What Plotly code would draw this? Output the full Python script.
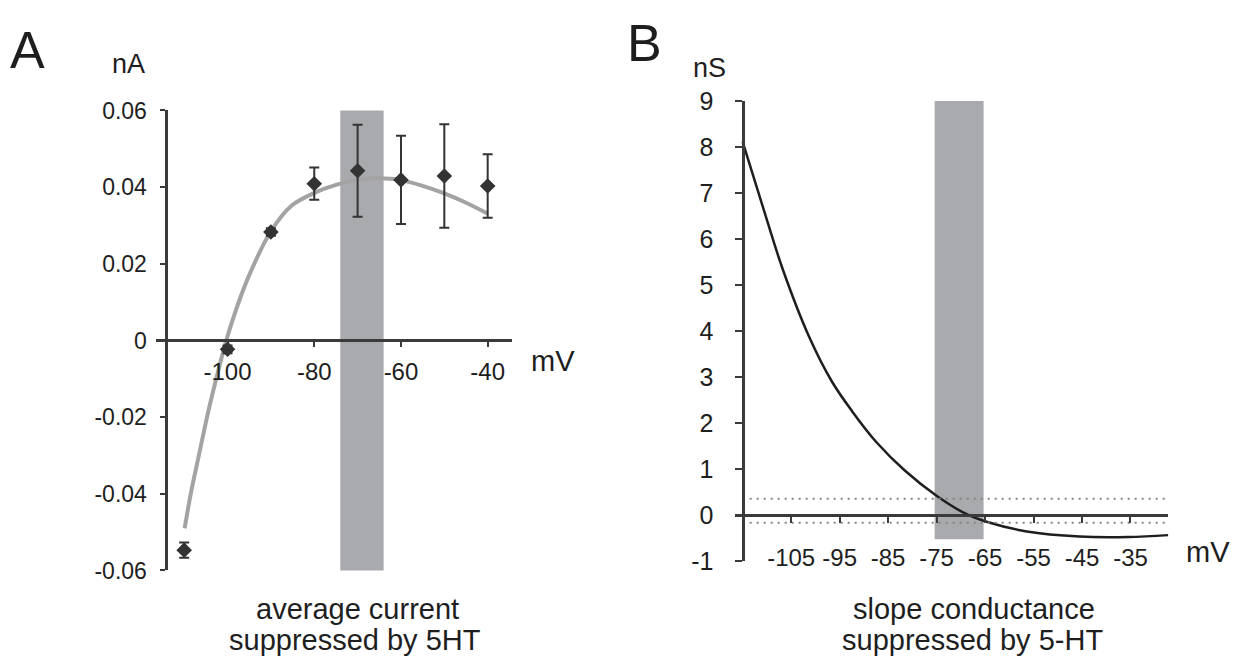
import plotly.graph_objects as go

W, H = 1237, 671

# ---------------- Panel A data ----------------
a_mv = [-110, -100, -90, -80, -70, -60, -50, -40]
a_current = [-0.0547, -0.0023, 0.0283, 0.0409, 0.0443, 0.0419, 0.0429, 0.0403]
a_error = [0.002, 0.001, 0.001, 0.0042, 0.012, 0.0115, 0.0135, 0.0083]
a_fit_mv = [-109.9, -108.4, -106.75, -104.7, -103.1, -100.3, -97.8, -95.1, -90.1,
            -85.2, -80, -75, -70.1, -65.2, -60.2, -55.2, -50.3, -45.1, -40]
a_fit_na = [-0.049, -0.0395, -0.0307, -0.0198, -0.0122, 0.0, 0.0088, 0.0168, 0.0283,
            0.0352, 0.0385, 0.0406, 0.0419, 0.0423, 0.0419, 0.0404, 0.0385, 0.0360, 0.0331]
a_shade_mv = [-74, -64]
a_shade_na = [-0.0607, 0.0608]
a_xticks = [-100, -80, -60, -40]
a_xticklabels = ["-100", "-80", "-60", "-40"]
a_yticks = [-0.06, -0.04, -0.02, 0, 0.02, 0.04, 0.06]
a_yticklabels = ["-0.06", "-0.04", "-0.02", "0", "0.02", "0.04", "0.06"]

# ---------------- Panel B data ----------------
b_mv = [-115, -110.9, -106.7, -101.2, -96.6, -92.4, -87.4, -81.5, -74.8,
        -68.9, -64.7, -56.4, -45.5, -35.4, -27.2]
b_ns = [8.11, 6.72, 5.33, 3.85, 2.90, 2.25, 1.58, 0.96, 0.40,
        0.02, -0.15, -0.36, -0.47, -0.48, -0.44]
b_dotted_levels = [0.35, -0.17]
b_dotted_span = [-115, -27.2]
b_shade_mv = [-75.4, -65.3]
b_shade_ns = [-0.53, 9]
b_xticks = [-105, -95, -85, -75, -65, -55, -45, -35]
b_xticklabels = ["-105", "-95", "-85", "-75", "-65", "-55", "-45", "-35"]
b_yticks = [-1, 0, 1, 2, 3, 4, 5, 6, 7, 8, 9]
b_yticklabels = ["-1", "0", "1", "2", "3", "4", "5", "6", "7", "8", "9"]

AX = "#3a3a3a"
SHADE = "#a9aaad"
FONT = "Liberation Sans, Arial, sans-serif"


def px(x):
    return x / W


def py(y):
    return 1 - y / H


fig = go.Figure()

# Panel A
fig.add_trace(go.Scatter(x=a_fit_mv, y=a_fit_na, mode="lines",
                         line=dict(color="#a3a3a3", width=4, shape="spline", smoothing=0.8),
                         xaxis="x", yaxis="y", hoverinfo="skip"))
fig.add_trace(go.Scatter(x=a_mv, y=a_current, mode="markers",
                         marker=dict(symbol="diamond", size=12, color="#333333"),
                         error_y=dict(type="data", array=a_error, visible=True,
                                      color="#333333", thickness=2, width=5),
                         xaxis="x", yaxis="y"))

# Panel B
for lvl in b_dotted_levels:
    fig.add_trace(go.Scatter(x=b_dotted_span, y=[lvl, lvl], mode="lines",
                             line=dict(color="#858585", width=2, dash="2px,5px"),
                             xaxis="x3", yaxis="y2", hoverinfo="skip"))
fig.add_trace(go.Scatter(x=b_mv, y=b_ns, mode="lines",
                         line=dict(color="#1e1e1e", width=2.5, shape="spline", smoothing=1.0),
                         xaxis="x2", yaxis="y2"))

fig.add_shape(type="rect", xref="x", yref="y", x0=a_shade_mv[0], x1=a_shade_mv[1],
              y0=a_shade_na[0], y1=a_shade_na[1], fillcolor=SHADE, line=dict(width=0), layer="below")
fig.add_shape(type="rect", xref="x2", yref="y2", x0=b_shade_mv[0], x1=b_shade_mv[1],
              y0=b_shade_ns[0], y1=b_shade_ns[1], fillcolor=SHADE, line=dict(width=0), layer="below")

common = dict(showgrid=False, zeroline=False, tickcolor=AX, linecolor=AX)

fig.update_layout(
    width=W, height=H, autosize=False, showlegend=False,
    margin=dict(l=0, r=0, t=0, b=0),
    plot_bgcolor="white", paper_bgcolor="white",
    font=dict(family=FONT, color="#1e1e1e"),
    xaxis=dict(domain=[px(156), px(511.7)], range=[-116.5, -34.46], anchor="free",
               position=py(340.7), showline=True, linewidth=2.5, ticks="outside",
               ticklen=5, tickwidth=2, tickvals=a_xticks, ticktext=a_xticklabels,
               tickfont=dict(size=24), ticklabelstandoff=4, **common),
    yaxis=dict(domain=[py(580.7), py(100.7)], range=[-0.06, 0.06], anchor="free",
               position=px(165.5), showline=True, linewidth=3, ticks="outside",
               ticklen=5, tickwidth=2, tickvals=a_yticks, ticktext=a_yticklabels,
               tickfont=dict(size=23), ticklabelstandoff=8, **common),
    xaxis2=dict(domain=[px(735.4), px(1168.3)], range=[-116.5, -27.2], anchor="free",
                position=py(550), showline=False, ticks="", tickvals=b_xticks,
                ticktext=b_xticklabels, tickfont=dict(size=24), **common),
    xaxis3=dict(domain=[px(735.4), px(1168.3)], range=[-116.5, -27.2], anchor="free",
                overlaying="x2", position=py(522.7), showline=True, linewidth=2.5,
                ticks="outside", ticklen=6, tickwidth=2, tickvals=b_xticks,
                showticklabels=False, **common),
    yaxis2=dict(domain=[py(570.7), py(90.7)], range=[-1, 9], anchor="free",
                position=px(742.5), showline=True, linewidth=3, ticks="outside",
                ticklen=7, tickwidth=2, tickvals=b_yticks, ticktext=b_yticklabels,
                tickfont=dict(size=25), ticklabelstandoff=16, **common),
)


def label(text, x, y, size):
    fig.add_annotation(text=text, x=px(x), y=py(y), xref="paper", yref="paper",
                       xanchor="center", yanchor="middle", showarrow=False,
                       font=dict(size=size, family=FONT, color="#1e1e1e"))


label("A", 27.5, 38, 52)
label("nA", 128, 52, 27)
label("mV", 553, 362.5, 29)
label("average current", 357, 621, 29)
label("suppressed by 5HT", 355, 653, 29)

label("B", 644, 30, 52)
label("nS", 709, 56, 27)
label("mV", 1207.5, 561, 29)
label("slope conductance", 974, 621, 29)
label("suppressed by 5-HT", 972, 653, 29)

fig.write_html(
    "out.html",
    config={"displayModeBar": False},
    post_script="document.body.style.margin='0';document.body.style.overflow='hidden';",
)
